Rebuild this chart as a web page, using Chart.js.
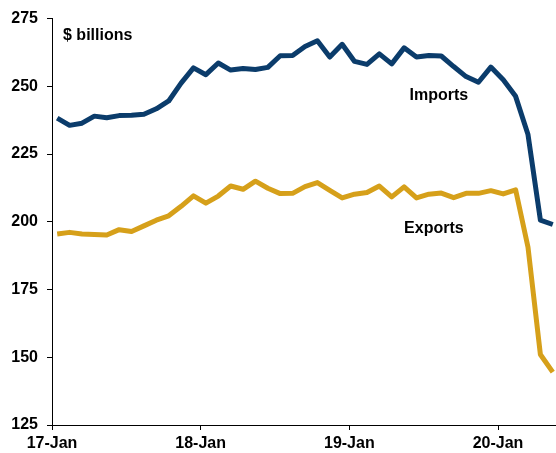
<!DOCTYPE html>
<html>
<head>
<meta charset="utf-8">
<script src="https://cdn.jsdelivr.net/npm/chart.js@4/dist/chart.umd.min.js"></script>
<style>
html,body{margin:0;padding:0;background:#fff;}
#wrap{width:556px;height:453px;}
</style>
</head>
<body>
<div id="wrap"><canvas id="c" width="556" height="453"></canvas></div>
<script>
// Months Jan 2017 .. May 2020
const months = ["2017-01","2017-02","2017-03","2017-04","2017-05","2017-06","2017-07","2017-08","2017-09","2017-10","2017-11","2017-12",
"2018-01","2018-02","2018-03","2018-04","2018-05","2018-06","2018-07","2018-08","2018-09","2018-10","2018-11","2018-12",
"2019-01","2019-02","2019-03","2019-04","2019-05","2019-06","2019-07","2019-08","2019-09","2019-10","2019-11","2019-12",
"2020-01","2020-02","2020-03","2020-04","2020-05"];

const imports = [238.3,235.6,236.4,239.0,238.4,239.2,239.3,239.7,241.7,244.6,251.2,256.8,
254.3,258.6,256.0,256.6,256.2,257.0,261.3,261.4,264.7,266.8,260.8,265.5,
259.2,258.1,262.0,258.3,264.2,260.8,261.4,261.2,257.3,253.6,251.5,257.1,
252.4,246.3,232.2,200.6,199.0];

const exportsSeries = [195.5,196.1,195.5,195.3,195.1,197.1,196.4,198.5,200.6,202.2,205.7,209.6,
206.9,209.5,213.2,212.0,215.0,212.4,210.4,210.5,213.0,214.5,211.6,208.8,
210.2,210.8,213.2,209.2,212.9,208.8,210.2,210.6,208.9,210.5,210.5,211.5,
210.3,211.8,190.6,151.0,144.5];

const xTickLabels = ["17-Jan","18-Jan","19-Jan","20-Jan"];
const xTickPositions = [-0.42, 11.58, 23.58, 35.58];
const yTicks = [125,150,175,200,225,250,275];

const seriesNames = ["Imports","Exports"];
const unitLabel = "$ billions";

const toPts = arr => arr.map((v,i)=>({x:i,y:v}));
const FONT = "'Liberation Sans', Arial, sans-serif";

const labelPlugin = {
  id:'labels',
  afterDatasetsDraw(chart){
    const {ctx, scales:{x,y}} = chart;
    ctx.save();
    ctx.fillStyle = '#000';
    ctx.font = "bold 16px " + FONT;
    ctx.textBaseline = 'middle';
    ctx.textAlign = 'left';
    ctx.fillText(unitLabel, x.getPixelForValue(0.47), y.getPixelForValue(268.7));
    ctx.textAlign = 'center';
    ctx.fillText(seriesNames[0], x.getPixelForValue(30.8), y.getPixelForValue(246.4));
    ctx.fillText(seriesNames[1], x.getPixelForValue(30.4), y.getPixelForValue(197.4));
    ctx.restore();
  }
};

new Chart(document.getElementById('c'), {
  type:'line',
  data:{
    datasets:[
      {label:seriesNames[0], data:toPts(imports), borderColor:'#0B3C6B', borderWidth:5, pointRadius:0, tension:0, borderJoinStyle:'round', borderCapStyle:'butt', fill:false},
      {label:seriesNames[1], data:toPts(exportsSeries), borderColor:'#D6A01A', borderWidth:5, pointRadius:0, tension:0, borderJoinStyle:'round', borderCapStyle:'butt', fill:false}
    ]
  },
  options:{
    responsive:false,
    animation:false,
    devicePixelRatio:1,
    layout:{padding:{top:17,right:0,left:0,bottom:0}},
    plugins:{legend:{display:false}, tooltip:{enabled:false}},
    scales:{
      x:{
        type:'linear', min:-0.42, max:40.26,
        afterBuildTicks(s){ s.ticks = xTickPositions.map(v=>({value:v})); },
        afterFit(s){ s.height = 28; },
        ticks:{
          autoSkip:false, maxRotation:0, padding:4, color:'#000',
          font:{family:FONT, size:16, weight:'bold'},
          callback(v, i){ return xTickLabels[i]; }
        },
        grid:{drawOnChartArea:false, drawTicks:true, tickLength:5, color:'#000', lineWidth:1},
        border:{display:true, color:'#000', width:1}
      },
      y:{
        min:125, max:275,
        afterBuildTicks(s){ s.ticks = yTicks.map(v=>({value:v})); },
        afterFit(s){ s.width = 52; },
        ticks:{
          padding:9, color:'#000',
          font:{family:FONT, size:16, weight:'bold'}
        },
        grid:{drawOnChartArea:false, drawTicks:true, tickLength:5, color:'#000', lineWidth:1},
        border:{display:true, color:'#000', width:1}
      }
    }
  },
  plugins:[labelPlugin]
});
</script>
</body>
</html>
